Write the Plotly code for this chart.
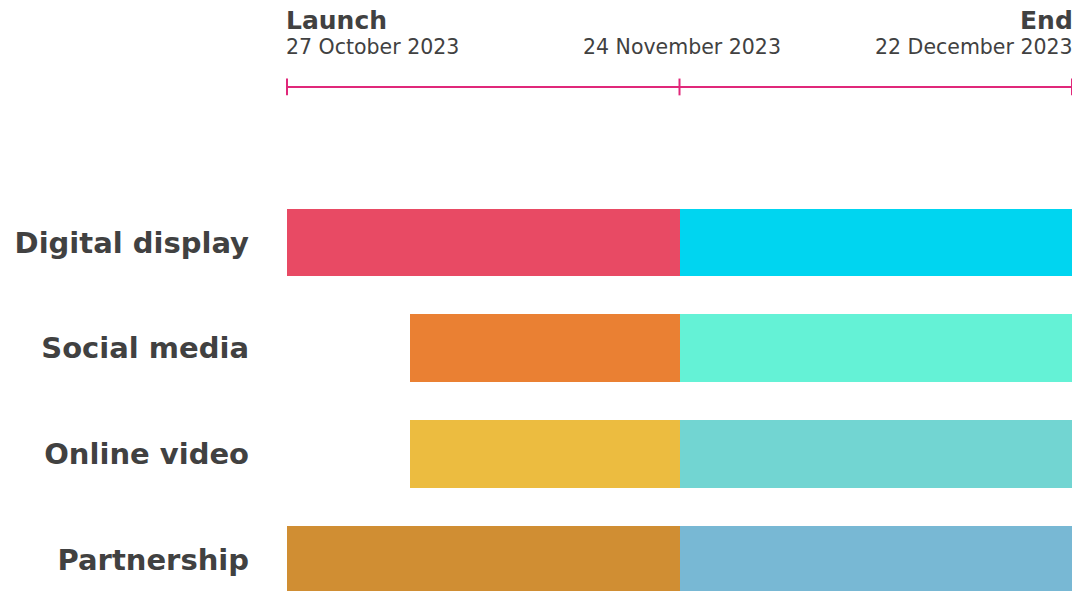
import plotly.graph_objects as go
import pandas as pd

# ---- data ----
channels = ["Digital display", "Social media", "Online video", "Partnership"]
phase1_start = ["2023-10-27", "2023-11-04T18:30", "2023-11-04T18:30", "2023-10-27"]
midpoint = "2023-11-24"
campaign_end = "2023-12-22"
phase1_colors = ["#E84A64", "#EA8033", "#ECBC40", "#D08E33"]
phase2_colors = ["#00D5F0", "#64F2D6", "#72D5D2", "#78B8D4"]

milestone_dates = ["2023-10-27", "2023-11-24", "2023-12-22"]
milestone_titles = ["Launch", "", "End"]
milestone_labels = ["27 October 2023", "24 November 2023", "22 December 2023"]

TEXT = "#414141"
PINK = "#E0287A"
FONT = "DejaVu Sans"

ypos = list(range(len(channels)))
mid = pd.Timestamp(midpoint)
end = pd.Timestamp(campaign_end)
dur1 = [(mid - pd.Timestamp(s)).total_seconds() * 1000 for s in phase1_start]
dur2 = [(end - mid).total_seconds() * 1000 for _ in channels]

fig = go.Figure()
fig.add_trace(go.Bar(
    y=ypos, x=dur1, base=phase1_start, orientation="h",
    marker=dict(color=phase1_colors, line=dict(width=0)),
    width=0.64, hoverinfo="skip", showlegend=False,
))
fig.add_trace(go.Bar(
    y=ypos, x=dur2, base=[midpoint] * len(channels), orientation="h",
    marker=dict(color=phase2_colors, line=dict(width=0)),
    width=0.64, hoverinfo="skip", showlegend=False,
))

# timeline
TL_Y = -1.472
fig.add_trace(go.Scatter(
    x=milestone_dates, y=[TL_Y] * 3, mode="lines+markers",
    line=dict(color=PINK, width=2),
    marker=dict(symbol="line-ns", size=12, line=dict(color=PINK, width=2), color=PINK),
    hoverinfo="skip", showlegend=False, cliponaxis=False,
))

anchors = ["left", "center", "right"]
shifts = [-3, 2, 3]
for d, t, lab, a, s in zip(milestone_dates, milestone_titles, milestone_labels, anchors, shifts):
    if t:
        fig.add_annotation(x=d, xref="x", y=1 - 21 / 591, yref="paper",
                           text=f"<b>{t}</b>", showarrow=False, xanchor=a, yanchor="middle",
                           font=dict(family=FONT, size=25, color=TEXT), xshift=s)
    fig.add_annotation(x=d, xref="x", y=1 - 47 / 591, yref="paper",
                       text=lab, showarrow=False, xanchor=a, yanchor="middle",
                       font=dict(family=FONT, size=20.5, color=TEXT), xshift=s)

fig.update_layout(
    width=1072, height=591,
    margin=dict(l=287, r=0, t=0, b=0),
    paper_bgcolor="white", plot_bgcolor="white",
    barmode="overlay", bargap=0,
    xaxis=dict(type="date", range=["2023-10-27", "2023-12-22"], showgrid=False,
               zeroline=False, showticklabels=False, showline=False, fixedrange=True),
    yaxis=dict(range=[3.298, -2.295], tickvals=ypos, ticktext=[f"<b>{c}</b>" for c in channels],
               showgrid=False, zeroline=False, showline=False, ticks="",
               ticklabelstandoff=37,
               tickfont=dict(family=FONT, size=29, color=TEXT), fixedrange=True),
    font=dict(family=FONT, color=TEXT),
)

fig.write_html("out.html")
